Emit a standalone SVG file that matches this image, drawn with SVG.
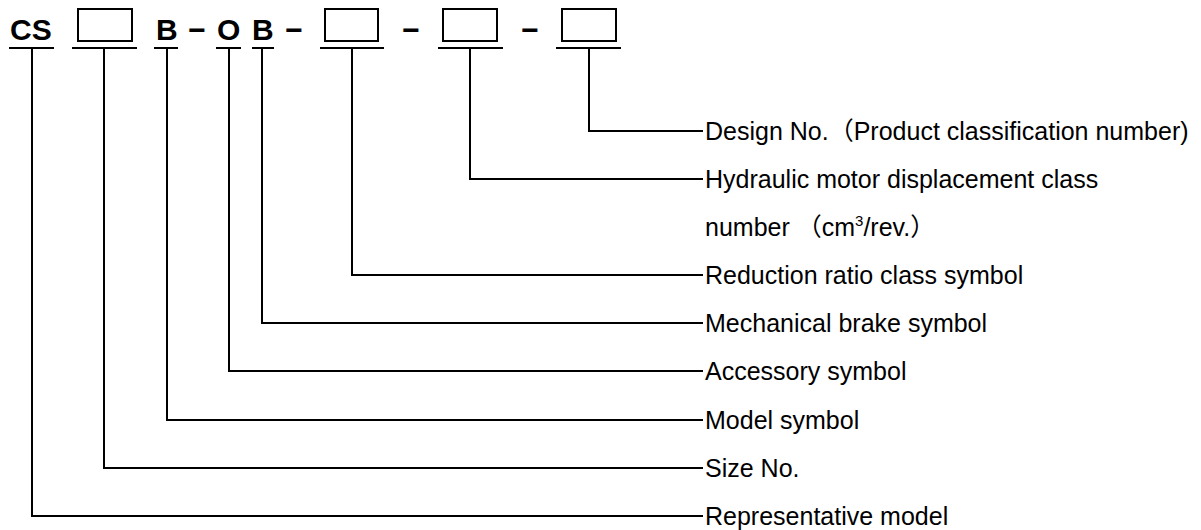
<svg xmlns="http://www.w3.org/2000/svg" width="1201" height="530" viewBox="0 0 1201 530">
<style>
.code{font-family:"Liberation Sans","Noto Sans CJK JP",sans-serif;font-size:30px;font-weight:bold;fill:#000}
.lbl{font-family:"Liberation Sans","Noto Sans CJK JP",sans-serif;font-size:25px;fill:#000}
.box{fill:#fff;stroke:#000;stroke-width:2}
.ul{stroke:#000;stroke-width:2;fill:none}
.con{stroke:#000;stroke-width:2;fill:none}
</style>
<rect width="1201" height="530" fill="#fff"/>
<g id="code">
  <g id="seg-cs"><text class="code" x="10" y="40">CS</text><line class="ul" x1="9" y1="48" x2="54" y2="48"/></g>
  <g id="seg-size"><rect class="box" x="78" y="9" width="54" height="32"/><line class="ul" x1="72" y1="48" x2="137" y2="48"/></g>
  <g id="seg-b1"><text class="code" x="156" y="40">B</text><line class="ul" x1="154" y1="48" x2="178" y2="48"/></g>
  <text id="dash1" class="code" x="197" y="40" text-anchor="middle">−</text>
  <g id="seg-o"><text class="code" x="217" y="40">O</text><line class="ul" x1="216" y1="48" x2="241" y2="48"/></g>
  <g id="seg-b2"><text class="code" x="252" y="40">B</text><line class="ul" x1="252" y1="48" x2="274" y2="48"/></g>
  <text id="dash2" class="code" x="294" y="40" text-anchor="middle">−</text>
  <g id="seg-ratio"><rect class="box" x="325" y="9" width="53" height="32"/><line class="ul" x1="320" y1="48" x2="384" y2="48"/></g>
  <text id="dash3" class="code" x="411" y="40" text-anchor="middle">−</text>
  <g id="seg-motor"><rect class="box" x="443" y="9" width="54" height="32"/><line class="ul" x1="438" y1="48" x2="503" y2="48"/></g>
  <text id="dash4" class="code" x="530" y="40" text-anchor="middle">−</text>
  <g id="seg-design"><rect class="box" x="562" y="9" width="54" height="32"/><line class="ul" x1="556" y1="48" x2="621" y2="48"/></g>
</g>
<g id="connectors">
  <path class="con" d="M589 48 V131 H703"/>
  <path class="con" d="M470 48 V179 H703"/>
  <path class="con" d="M352 48 V275 H703"/>
  <path class="con" d="M262 48 V323 H703"/>
  <path class="con" d="M229 48 V371 H703"/>
  <path class="con" d="M167 48 V420 H703"/>
  <path class="con" d="M104 48 V468 H703"/>
  <path class="con" d="M32 48 V516 H703"/>
</g>
<g id="label-design"><text class="lbl" x="705" y="140">Design No.（Product classification number)</text></g>
<g id="label-motor"><text class="lbl" x="705" y="188">Hydraulic motor displacement class</text><text class="lbl" x="705" y="236">number （cm<tspan font-size="15" dy="-10">3</tspan><tspan dy="10">/rev.）</tspan></text></g>
<g id="label-ratio"><text class="lbl" x="705" y="284">Reduction ratio class symbol</text></g>
<g id="label-brake"><text class="lbl" x="705" y="332">Mechanical brake symbol</text></g>
<g id="label-accessory"><text class="lbl" x="705" y="380">Accessory symbol</text></g>
<g id="label-model"><text class="lbl" x="705" y="429">Model symbol</text></g>
<g id="label-size"><text class="lbl" x="705" y="477">Size No.</text></g>
<g id="label-rep"><text class="lbl" x="705" y="525">Representative model</text></g>
</svg>
